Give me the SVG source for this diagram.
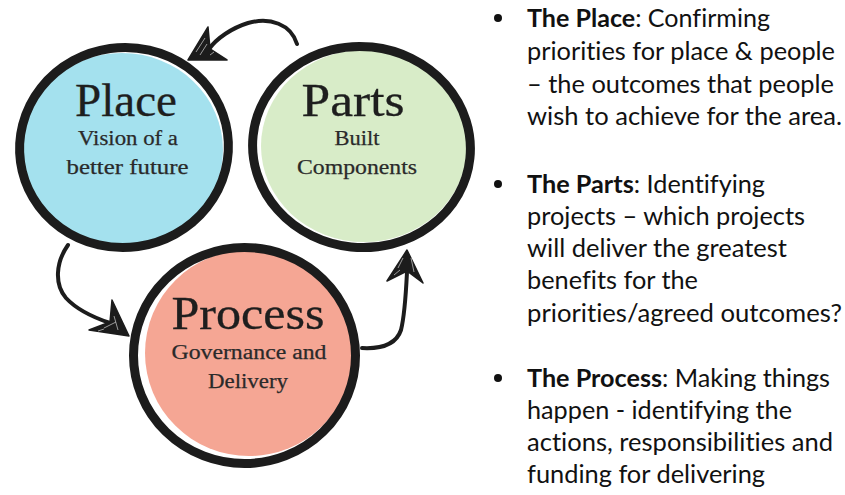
<svg xmlns="http://www.w3.org/2000/svg" width="845" height="495" viewBox="0 0 845 495">
<style>
.ring{fill:none;stroke:#1c1c1c;stroke-width:9}
.title{font-family:"Liberation Serif","Times New Roman",serif;font-size:46px;fill:#1e1e1e;text-anchor:middle;stroke:#1e1e1e;stroke-width:0.3}
.sub{font-family:"Liberation Serif","Times New Roman",serif;font-size:20.5px;fill:#2a2a2a;text-anchor:middle;stroke:#2a2a2a;stroke-width:0.25}
.conn{fill:none;stroke:#1c1c1c;stroke-width:4;stroke-linecap:round;stroke-linejoin:round}
.head{fill:#1c1c1c;stroke:#1c1c1c;stroke-width:1.5;stroke-linejoin:round}
.hatch{stroke:#bbbbbb;stroke-width:0.8;fill:none}
.body{font-family:Lato,"Open Sans",sans-serif;font-size:25px;fill:#111;font-variant-ligatures:none}
.b{font-weight:bold}
</style>
<rect width="845" height="495" fill="#ffffff"/>

<g id="place">
<ellipse cx="122" cy="150" rx="101" ry="97" fill="#a4e1ee"/>
<ellipse class="ring" cx="124" cy="147.5" rx="104.5" ry="100" transform="rotate(-8 124 147.5)"/>
<text class="title" x="126" y="116" textLength="102" lengthAdjust="spacingAndGlyphs">Place</text>
<text class="sub" x="128" y="145" textLength="100" lengthAdjust="spacingAndGlyphs">Vision of a</text>
<text class="sub" x="127.5" y="174" textLength="122" lengthAdjust="spacingAndGlyphs">better future</text>
</g>

<g id="parts">
<ellipse cx="364" cy="146" rx="103" ry="96" fill="#d8ecc8"/>
<ellipse class="ring" cx="361.5" cy="147" rx="109" ry="100.5" transform="rotate(6 361.5 147)"/>
<text class="title" x="353" y="116" textLength="103" lengthAdjust="spacingAndGlyphs">Parts</text>
<text class="sub" x="357" y="145" textLength="45" lengthAdjust="spacingAndGlyphs">Built</text>
<text class="sub" x="357" y="174" textLength="120" lengthAdjust="spacingAndGlyphs">Components</text>
</g>

<g id="process">
<ellipse cx="249" cy="353" rx="104" ry="103" fill="#f5a694"/>
<ellipse class="ring" cx="244.5" cy="355.5" rx="111" ry="108"/>
<text class="title" x="248" y="329" textLength="153" lengthAdjust="spacingAndGlyphs">Process</text>
<text class="sub" x="249" y="359" textLength="155" lengthAdjust="spacingAndGlyphs">Governance and</text>
<text class="sub" x="248" y="388" textLength="80" lengthAdjust="spacingAndGlyphs">Delivery</text>
</g>

<g id="connectors">
<path class="conn" d="M297,44 C291,24 270,17 248,23 C232,28 217,38 209,49"/>
<path class="head" d="M188,60 L208,27 L210,49 L227,60 Z"/>
<path class="hatch" d="M196,52 L205,38 M200,55 L207,44 M210,55 L214,52"/>

<path class="conn" d="M68,245 C56,262 54,284 66,298 C78,311 95,318 110,323"/>
<path class="head" d="M129,336 L112,300 L110,322 L89,330 Z"/>
<path class="hatch" d="M104,328 L116,322 M114,316 L118,330 M98,331 L104,329"/>

<path class="conn" d="M362,348 C381,349 396,345 401,330 C405,314 406,292 407,272"/>
<path class="head" d="M407,250 L387,281 L407,271 L423,283 Z"/>
<path class="hatch" d="M398,268 L403,258 M411,258 L414,272 M394,275 L400,270"/>
</g>

<g id="bullets">
<circle cx="498" cy="18" r="4" fill="#111"/>
<text class="body" x="527" y="27" textLength="243" lengthAdjust="spacingAndGlyphs"><tspan class="b">The Place</tspan>: Confirming</text>
<text class="body" x="527" y="60" textLength="308" lengthAdjust="spacingAndGlyphs">priorities for place &amp; people</text>
<text class="body" x="527" y="93" textLength="307" lengthAdjust="spacingAndGlyphs">– the outcomes that people</text>
<text class="body" x="527" y="125" textLength="315" lengthAdjust="spacingAndGlyphs">wish to achieve for the area.</text>

<circle cx="498" cy="184" r="4" fill="#111"/>
<text class="body" x="527" y="193" textLength="238" lengthAdjust="spacingAndGlyphs"><tspan class="b">The Parts</tspan>: Identifying</text>
<text class="body" x="527" y="225" textLength="278" lengthAdjust="spacingAndGlyphs">projects – which projects</text>
<text class="body" x="527" y="257" textLength="260" lengthAdjust="spacingAndGlyphs">will deliver the greatest</text>
<text class="body" x="527" y="289" textLength="171" lengthAdjust="spacingAndGlyphs">benefits for the</text>
<text class="body" x="527" y="322" textLength="315" lengthAdjust="spacingAndGlyphs">priorities/agreed outcomes?</text>

<circle cx="498" cy="378" r="4" fill="#111"/>
<text class="body" x="527" y="387" textLength="303" lengthAdjust="spacingAndGlyphs"><tspan class="b">The Process</tspan>: Making things</text>
<text class="body" x="527" y="419" textLength="265" lengthAdjust="spacingAndGlyphs">happen - identifying the</text>
<text class="body" x="527" y="451" textLength="306" lengthAdjust="spacingAndGlyphs">actions, responsibilities and</text>
<text class="body" x="527" y="483" textLength="238" lengthAdjust="spacingAndGlyphs">funding for delivering</text>
</g>
</svg>
